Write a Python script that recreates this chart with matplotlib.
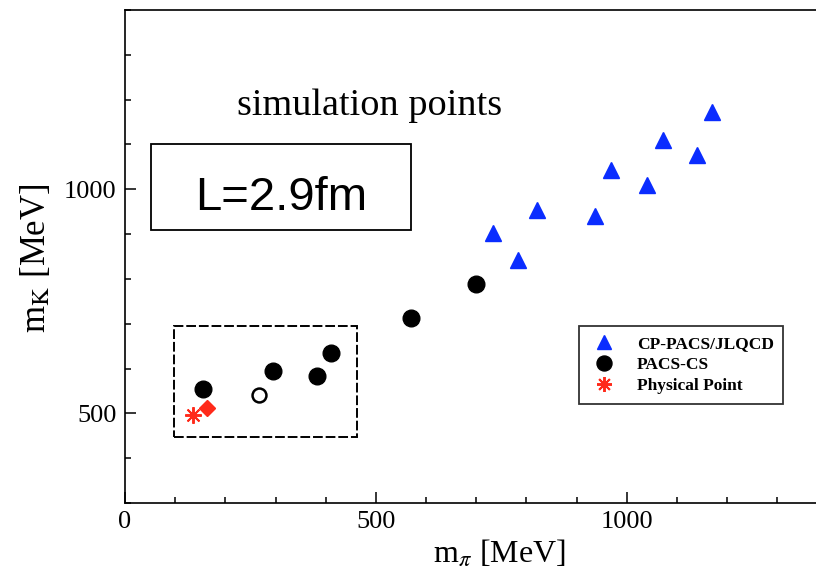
import matplotlib
matplotlib.use("Agg")
import matplotlib.pyplot as plt
from matplotlib.patches import Rectangle

plt.rcParams['font.family'] = 'Liberation Serif'
plt.rcParams['mathtext.fontset'] = 'stix'

# CP-PACS/JLQCD runs
cp_mpi = [734, 784, 820, 936, 968, 1040, 1072, 1139, 1169]
cp_mk = [902, 842, 954, 941, 1043, 1010, 1110, 1077, 1172]

# PACS-CS runs
pacs_mpi = [155, 294, 383, 410, 570, 699]
pacs_mk = [554, 595, 583, 635, 713, 789]

# open circle and diamond near the physical point
open_mpi = [267]
open_mk = [542]
diamond_mpi = [163]
diamond_mk = [513]

phys_mpi = [135]
phys_mk = [497]

fig = plt.figure(figsize=(8.16, 5.74), dpi=100)
ax = fig.add_axes([0.1532, 0.1237, 0.861, 0.859])

ax.plot(cp_mpi, cp_mk, linestyle='none', marker='^', markersize=11,
        color='#0a2cff', label='CP-PACS/JLQCD')
ax.plot(pacs_mpi, pacs_mk, linestyle='none', marker='o', markersize=12,
        color='black', label='PACS-CS')
ax.plot(phys_mpi, phys_mk, linestyle='none', marker=(8, 2, 0), markersize=12,
        markeredgewidth=1.4, color='#ff2a1a', label='Physical Point')
ax.plot(open_mpi, open_mk, linestyle='none', marker='o', markersize=10,
        markerfacecolor='white', markeredgecolor='black', markeredgewidth=1.8)
ax.plot(diamond_mpi, diamond_mk, linestyle='none', marker='D', markersize=8,
        color='#ff2a1a')

# dashed frame around the light-quark points
ax.add_patch(Rectangle((98, 447), 365, 248, fill=False, edgecolor='black',
                       linewidth=1.4, linestyle=(0, (5, 1.5))))

# box with the spatial extent
ax.add_patch(Rectangle((52, 909), 517, 192, fill=False, edgecolor='black',
                       linewidth=1.3))
ax.text(311, 954, 'L=2.9fm', family='Liberation Sans', fontsize=34,
        ha='center', va='baseline')

ax.text(223, 1166, 'simulation points', fontsize=27.5, ha='left', va='baseline')

ax.set_xlim(0, 1400)
ax.set_ylim(300, 1400)
ax.set_xticks([0, 500, 1000])
ax.set_yticks([500, 1000])
ax.set_xticks(range(0, 1401, 100), minor=True)
ax.set_yticks(range(300, 1401, 100), minor=True)
ax.tick_params(which='both', direction='in', labelsize=19, width=1.1)
ax.tick_params(which='major', length=8, pad=6)
ax.tick_params(which='minor', length=4)
for s in ax.spines.values():
    s.set_linewidth(1.2)

fig.text(499 / 816, 1 - 562 / 574, r'm$_\pi$ [MeV]', fontsize=23,
         ha='center', va='baseline')
fig.text(36 / 816, 1 - 258 / 574, r'm$_\mathrm{K}$ [MeV]', fontsize=25,
         ha='center', va='center', rotation=90)

leg = ax.legend(loc='upper left', bbox_to_anchor=((579 - 125) / 703, (503 - 326) / 493),
                bbox_transform=ax.transAxes, frameon=True, fancybox=False,
                prop={'family': 'Liberation Serif', 'weight': 'bold', 'size': 12.5},
                handletextpad=1.0, labelspacing=0.3, borderpad=0.55,
                handlelength=1.8, borderaxespad=0)
leg.get_frame().set_edgecolor('black')
leg.get_frame().set_linewidth(1.3)
for h in leg.legend_handles:
    h.set_markersize(h.get_markersize() * 0.9)

fig.savefig('out.png', dpi=100)
